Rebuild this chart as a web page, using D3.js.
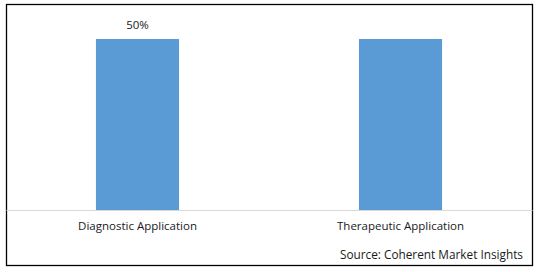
<!DOCTYPE html>
<html>
<head>
<meta charset="utf-8">
<script src="https://cdn.jsdelivr.net/npm/d3@7"></script>
<style>
  html, body { margin: 0; padding: 0; background: #fff; }
  svg { display: block; }
  text { font-family: "Open Sans", "Liberation Sans", sans-serif; fill: #1a1a1a; }
</style>
</head>
<body>
<script>
const categories = ["Diagnostic Application", "Therapeutic Application"];
const values = [50, 50];
const dataLabels = ["50%", ""];
const sourceText = "Source: Coherent Market Insights";

const W = 539, H = 272;
const svg = d3.select("body").append("svg").attr("width", W).attr("height", H);

// outer border
svg.append("rect")
  .attr("x", 6.5).attr("y", 4.5)
  .attr("width", 526).attr("height", 261)
  .attr("fill", "#fff").attr("stroke", "#000").attr("stroke-width", 1.3);

const plotLeft = 6, plotRight = 532, baseY = 210, topY = 39;

const x = d3.scaleBand()
  .domain(categories)
  .range([plotLeft, plotRight])
  .paddingInner(0.684)
  .paddingOuter(0.342);

const y = d3.scaleLinear().domain([0, 50]).range([baseY, topY]);

svg.selectAll("rect.bar")
  .data(categories)
  .join("rect")
  .attr("class", "bar")
  .attr("x", d => x(d))
  .attr("width", x.bandwidth())
  .attr("y", (d, i) => y(values[i]))
  .attr("height", (d, i) => y(0) - y(values[i]))
  .attr("fill", "#5b9bd5");

// axis baseline
const xAxis = d3.axisBottom(x).tickSize(0).tickPadding(12);
const gx = svg.append("g").attr("transform", `translate(0,${baseY})`).call(xAxis);
gx.select(".domain").attr("stroke", "#d9d9d9").attr("stroke-width", 1);
gx.selectAll(".tick text")
  .attr("font-size", 11.5)
  .style("font-family", '"Open Sans", "Liberation Sans", sans-serif')
  .attr("fill", "#1a1a1a");

// data labels
svg.selectAll("text.dl")
  .data(categories)
  .join("text")
  .attr("class", "dl")
  .attr("x", d => x(d) + x.bandwidth() / 2)
  .attr("y", (d, i) => y(values[i]) - 10)
  .attr("text-anchor", "middle")
  .attr("font-size", 11.5)
  .text((d, i) => dataLabels[i]);

// source
svg.append("text")
  .attr("x", 523).attr("y", 259)
  .attr("text-anchor", "end")
  .attr("font-size", 11.8)
  .text(sourceText);
</script>
</body>
</html>
